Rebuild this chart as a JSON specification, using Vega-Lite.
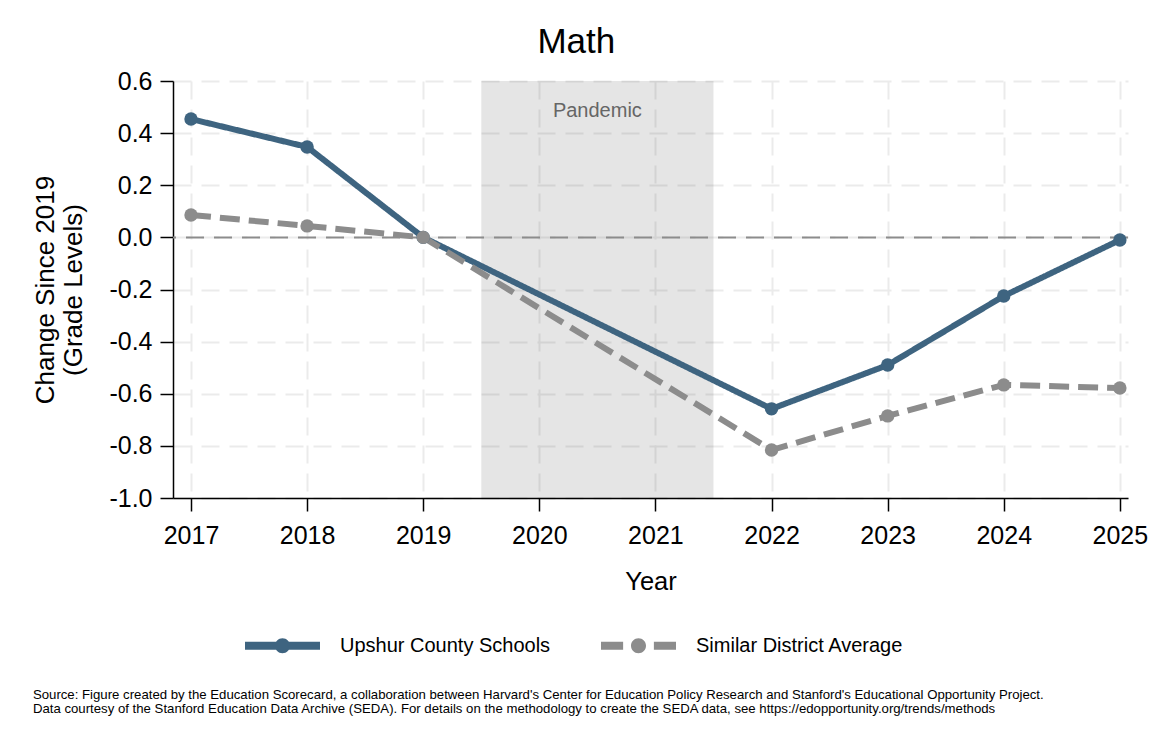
{
  "$schema": "https://vega.github.io/schema/vega-lite/v6.json",
  "padding": {"left": 32, "top": 25, "right": 5, "bottom": 5},
  "background": "white",
  "title": {
    "text": ["Source: Figure created by the Education Scorecard, a collaboration between Harvard's Center for Education Policy Research and Stanford's Educational Opportunity Project.", "Data courtesy of the Stanford Education Data Archive (SEDA). For details on the methodology to create the SEDA data, see https://edopportunity.org/trends/methods"],
    "orient": "bottom", "anchor": "start", "frame": "bounds",
    "fontSize": 13.2, "fontWeight": "normal", "font": "Liberation Sans", "color": "#000", "lineHeight": 14, "offset": 33
  },
  "config": {
    "view": {"stroke": null},
    "font": "Liberation Sans",
    "axis": {
      "labelFont": "Liberation Sans", "titleFont": "Liberation Sans",
      "labelFontSize": 25, "titleFontSize": 25.5, "titleFontWeight": "normal",
      "labelColor": "#000", "titleColor": "#000",
      "domainColor": "#000", "domainWidth": 1.5, "tickColor": "#000", "tickWidth": 1.5, "tickSize": 13,
      "gridColor": "#ebebeb", "gridWidth": 2, "gridDash": [18, 10]
    }
  },
  "vconcat": [
    {
      "width": 955,
      "height": 417,
      "title": {"text": "Math", "fontSize": 35, "font": "Liberation Sans", "fontWeight": "normal", "anchor": "middle", "frame": "bounds", "offset": 9, "dx": -14, "color": "#000"},
      "data": {"values": [
        {"year": 2017, "value": 0.454, "series": "Upshur County Schools"},
        {"year": 2018, "value": 0.347, "series": "Upshur County Schools"},
        {"year": 2019, "value": 0.0, "series": "Upshur County Schools"},
        {"year": 2022, "value": -0.658, "series": "Upshur County Schools"},
        {"year": 2023, "value": -0.49, "series": "Upshur County Schools"},
        {"year": 2024, "value": -0.225, "series": "Upshur County Schools"},
        {"year": 2025, "value": -0.01, "series": "Upshur County Schools"},
        {"year": 2017, "value": 0.086, "series": "Similar District Average"},
        {"year": 2018, "value": 0.044, "series": "Similar District Average"},
        {"year": 2019, "value": 0.0, "series": "Similar District Average"},
        {"year": 2022, "value": -0.816, "series": "Similar District Average"},
        {"year": 2023, "value": -0.685, "series": "Similar District Average"},
        {"year": 2024, "value": -0.566, "series": "Similar District Average"},
        {"year": 2025, "value": -0.578, "series": "Similar District Average"}
      ]},
      "layer": [
        {
          "data": {"values": [{"start": 2019.5, "end": 2021.5}]},
          "mark": {"type": "rect", "color": "#000", "opacity": 0.1},
          "encoding": {
            "x": {"field": "start", "type": "quantitative",
              "scale": {"domain": [2016.845, 2025.07], "nice": false, "zero": false},
              "axis": {"title": "Year", "values": [2017, 2018, 2019, 2020, 2021, 2022, 2023, 2024, 2025], "format": "d", "labelPadding": 12, "titlePadding": 21, "labelFlush": false}},
            "x2": {"field": "end"}
          }
        },
        {
          "data": {"values": [{"label": "Pandemic", "x": 2020.5, "y": 0.485}]},
          "mark": {"type": "text", "fontSize": 20, "color": "#666", "font": "Liberation Sans", "baseline": "middle"},
          "encoding": {
            "x": {"field": "x", "type": "quantitative"},
            "y": {"field": "y", "type": "quantitative"},
            "text": {"field": "label"}
          }
        },
        {
          "data": {"values": [{"zero": 0}]},
          "mark": {"type": "rule", "color": "#8c8c8c", "strokeWidth": 2, "strokeDash": [18, 10]},
          "encoding": {"y": {"field": "zero", "type": "quantitative"}}
        },
        {
          "mark": {"type": "line", "strokeWidth": 6},
          "encoding": {
            "x": {"field": "year", "type": "quantitative"},
            "y": {"field": "value", "type": "quantitative",
              "scale": {"domain": [-1.0, 0.6], "nice": false, "zero": false},
              "axis": {"title": ["Change Since 2019", "(Grade Levels)"], "titleFontSize": 26, "titleLineHeight": 28, "values": [-1.0, -0.8, -0.6, -0.4, -0.2, 0.0, 0.2, 0.4, 0.6], "format": ".1f", "labelExpr": "replace(datum.label, '\u2212', '-')", "labelPadding": 8, "titlePadding": 22}},
            "color": {"field": "series", "type": "nominal",
              "scale": {"domain": ["Upshur County Schools", "Similar District Average"], "range": ["#3e6480", "#8c8c8c"]},
              "legend": {
                "title": null, "orient": "none", "direction": "horizontal", "legendX": 72, "legendY": 527,
                "labelFontSize": 20, "labelFont": "Liberation Sans", "labelColor": "#000", "labelOffset": 20, "labelLimit": 500,
                "symbolSize": 5625, "columnPadding": 50,
                "encode": {"symbols": {"update": {
                  "shape": {"signal": "datum.value === 'Upshur County Schools' ? 'M-1,-0.107L1,-0.107L1,0.107L-1,0.107Z M0.2,0A0.2,0.2 0 1,1 -0.2,0A0.2,0.2 0 1,1 0.2,0Z' : 'M-1,-0.107L-0.41,-0.107L-0.41,0.107L-1,0.107Z M0.41,-0.107L1,-0.107L1,0.107L0.41,0.107Z M0.2,0A0.2,0.2 0 1,1 -0.2,0A0.2,0.2 0 1,1 0.2,0Z'"},
                  "fill": {"scale": "color", "field": "value"},
                  "strokeWidth": {"value": 0},
                  "opacity": {"value": 1}
                }}}
              }},
            "strokeDash": {"field": "series", "type": "nominal",
              "scale": {"domain": ["Upshur County Schools", "Similar District Average"], "range": [[1, 0], [20, 9]]},
              "legend": null}
          }
        },
        {
          "mark": {"type": "circle", "size": 180, "opacity": 1},
          "encoding": {
            "x": {"field": "year", "type": "quantitative"},
            "y": {"field": "value", "type": "quantitative"},
            "color": {"field": "series", "type": "nominal", "legend": null}
          }
        }
      ]
    }
  ]
}
